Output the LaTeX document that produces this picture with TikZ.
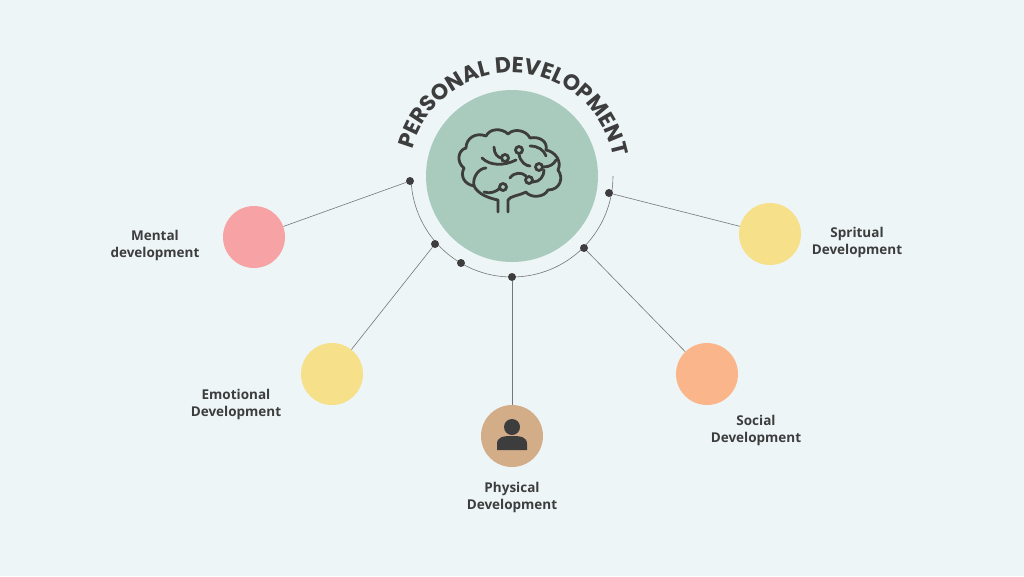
\documentclass[tikz,border=0pt]{standalone}
\usepackage{fontspec}
\setmainfont{Open Sans}
\newfontfamily\titlefont{Poppins}
\usetikzlibrary{decorations.text}
\definecolor{bg}{HTML}{EDF5F6}
\definecolor{ink}{HTML}{3D3D3D}
\definecolor{cgreen}{HTML}{A9CBBD}
\definecolor{cpink}{HTML}{F7A2A4}
\definecolor{cyellow}{HTML}{F7E08A}
\definecolor{ctan}{HTML}{D3AC88}
\definecolor{corange}{HTML}{FBB58A}
\begin{document}
\begin{tikzpicture}[x=1pt,y=-1pt,
  bub/.style={circle,minimum size=62pt,inner sep=0pt},
  dot/.style={circle,fill=ink,minimum size=8pt,inner sep=0pt},
  lbl/.style={align=center,font=\bfseries\fontsize{13.5}{17}\selectfont,text=ink},
  conn/.style={draw=ink!70,line width=0.6pt},
  brain/.style={draw=ink,line width=2.8pt,line cap=round,line join=round}]
\fill[bg] (0,0) rectangle (1024,576);
\useasboundingbox (0,0) rectangle (1024,576);
\coordinate (c) at (512,176);
\node[circle,fill=cgreen,minimum size=172pt,inner sep=0pt] (hub) at (c) {};
\draw[ink!70,line width=0.6pt] (c) ++(177:101) arc[start angle=177,end angle=0,radius=101];
\node[dot] (d1) at (410,181) {};
\node[dot] (d2) at (435,244) {};
\node[dot] (d3) at (461,263) {};
\node[dot] (d4) at (512,277) {};
\node[dot] (d5) at (584,248) {};
\node[dot] (d6) at (609,193) {};
\node[bub,fill=cpink] (m) at (254,237) {};
\node[bub,fill=cyellow] (e) at (332,374) {};
\node[bub,fill=ctan] (p) at (512,436) {};
\node[bub,fill=corange] (so) at (707,374) {};
\node[bub,fill=cyellow] (sp) at (770,234) {};
\draw[conn] (d1) -- (m);
\draw[conn] (d2) -- (e);
\draw[conn] (d4) -- (p);
\draw[conn] (d5) -- (so);
\draw[conn] (d6) -- (sp);
\node[lbl] (lm) at (155,245) {Mental\\development};
\node[lbl] (le) at (236,404) {Emotional\\Development};
\node[lbl] (lp) at (512,497) {Physical\\Development};
\node[lbl] (lso) at (756,430) {Social\\Development};
\node[lbl] (lsp) at (857,242) {Spritual\\Development};
% title along arc
\path[decorate,decoration={text along path,text align=center,
  text={|\titlefont\bfseries\fontsize{22}{22}\selectfont\color{ink}|PERSONAL DEVELOPMENT}}]
  (c) ++(192:103) arc[start angle=192,end angle=352,radius=103];
% person icon
\fill[ink] (512,427) circle (8);
\fill[ink] (497,450) -- (497,444) .. controls (497,437) and (503,436) .. (512,436) .. controls (521,436) and (527,437) .. (527,444) -- (527,450) -- cycle;
% brain icon
\draw[brain] (498,212) -- (498,200) .. controls (488,198) and (478,194) .. (474,186)
  .. controls (464,184) and (460,176) .. (464,168) .. controls (456,162) and (458,150) .. (466,148)
  .. controls (466,138) and (476,132) .. (486,136) .. controls (490,128) and (502,128) .. (508,134)
  .. controls (514,128) and (526,130) .. (530,138) .. controls (540,136) and (548,142) .. (546,150)
  .. controls (556,152) and (562,162) .. (558,170) .. controls (564,178) and (560,190) .. (548,190)
  .. controls (544,198) and (530,198) .. (526,192) .. controls (518,196) and (510,196) .. (508,200)
  -- (508,212);
\draw[brain] (474,186) .. controls (472,176) and (480,168) .. (486,168);
\draw[brain] (484,192) .. controls (490,194) and (496,192) .. (500,188);
\draw[brain] (503,187) circle (3.5);
\draw[brain] (482,158) .. controls (490,166) and (504,166) .. (516,160);
\draw[brain] (494,147) .. controls (494,154) and (498,158) .. (502,158);
\draw[brain] (505,158) circle (3.5);
\draw[brain] (519,150) circle (3.5);
\draw[brain] (519,154) .. controls (520,162) and (526,166) .. (530,166);
\draw[brain] (530,146) .. controls (538,146) and (544,150) .. (546,156);
\draw[brain] (539,167) circle (3.5);
\draw[brain] (543,167) .. controls (550,167) and (554,164) .. (556,160);
\draw[brain] (510,178) .. controls (514,172) and (522,172) .. (526,176);
\draw[brain] (529,180) circle (3.5);
\draw[brain] (533,182) .. controls (540,182) and (544,176) .. (544,170);
\end{tikzpicture}
\end{document}
